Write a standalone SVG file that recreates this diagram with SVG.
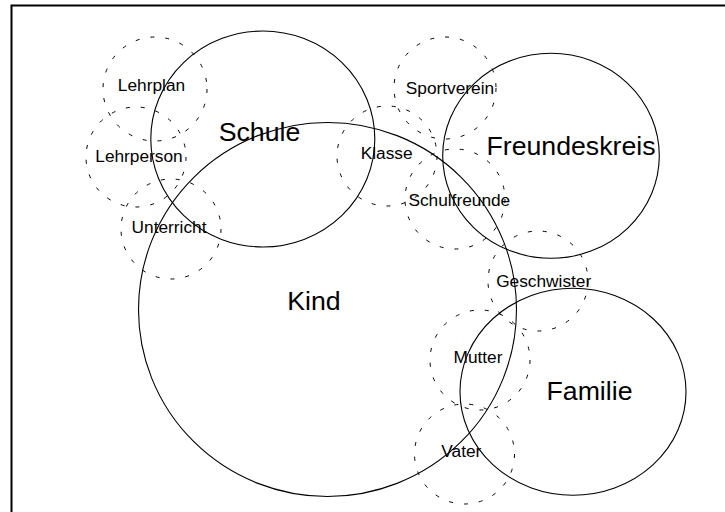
<svg xmlns="http://www.w3.org/2000/svg" width="725" height="512" viewBox="0 0 725 512">
<style>
.solid{fill:none;stroke:#000;stroke-width:1.1}
.dash{fill:none;stroke:#000;stroke-width:1;stroke-dasharray:4 11}
.frame{fill:none;stroke:#000;stroke-width:2}
text{font-family:"Liberation Sans",Arial,sans-serif;fill:#000;text-anchor:middle}
.small{font-size:17.3px}
.big{font-size:26.7px}
</style>
<rect width="725" height="512" fill="#fff"/>
<path class="frame" d="M11.5,512 V5.5 H725"/>
<g id="connectors"></g>
<g id="schule"><ellipse class="solid" cx="262.8" cy="139" rx="112" ry="108"/><text class="big" x="259.5" y="140.7">Schule</text></g>
<g id="kind"><ellipse class="solid" cx="327.5" cy="309.5" rx="189" ry="187"/><text class="big" x="314" y="310">Kind</text></g>
<g id="freundeskreis"><ellipse class="solid" cx="551" cy="155.8" rx="108.3" ry="102.5"/><text class="big" x="571" y="155">Freundeskreis</text></g>
<g id="familie"><ellipse class="solid" cx="573" cy="391.7" rx="113" ry="103.5"/><text class="big" x="589.5" y="400">Familie</text></g>
<g id="lehrplan"><circle class="dash" cx="155" cy="89" r="52"/><text class="small" x="151.5" y="91">Lehrplan</text></g>
<g id="lehrperson"><circle class="dash" cx="136" cy="157" r="50"/><text class="small" x="139" y="161.7">Lehrperson</text></g>
<g id="unterricht"><circle class="dash" cx="171" cy="229" r="50"/><text class="small" x="169" y="233.3">Unterricht</text></g>
<g id="sportverein"><circle class="dash" cx="445" cy="88" r="51"/><text class="small" x="450" y="94.3">Sportverein</text></g>
<g id="klasse"><circle class="dash" cx="387" cy="156" r="50"/><text class="small" x="386.7" y="159.3">Klasse</text></g>
<g id="schulfreunde"><circle class="dash" cx="455" cy="199" r="50"/><text class="small" x="459.3" y="205.7">Schulfreunde</text></g>
<g id="geschwister"><circle class="dash" cx="538" cy="281" r="50"/><text class="small" x="543.7" y="286.7">Geschwister</text></g>
<g id="mutter"><circle class="dash" cx="480" cy="360" r="50"/><text class="small" x="478" y="363">Mutter</text></g>
<g id="vater"><circle class="dash" cx="464.5" cy="454" r="50"/><text class="small" x="461.3" y="456.7">Vater</text></g>
</svg>
